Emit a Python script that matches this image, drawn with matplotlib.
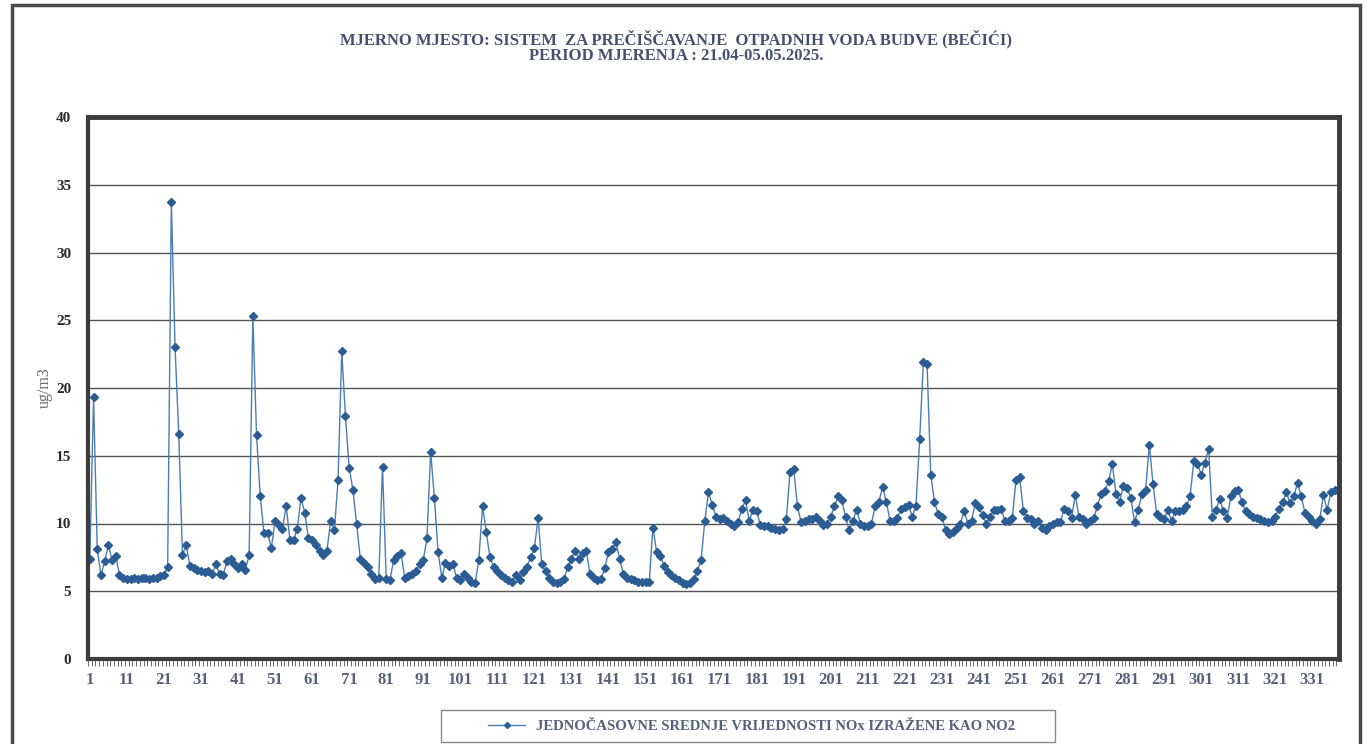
import numpy as np
import matplotlib.pyplot as plt
from matplotlib.patches import Rectangle

# chart texts
title = ('MJERNO MJESTO: SISTEM  ZA PREČIŠČAVANJE  OTPADNIH VODA BUDVE (BEČIĆI)\n'
         'PERIOD MJERENJA : 21.04-05.05.2025.')
series_label = 'JEDNOČASOVNE SREDNJE VRIJEDNOSTI NOx IZRAŽENE KAO NO2'
y_label = 'ug/m3'

# hourly NOx (as NO2) values, 10 per row
nox = [
    7.4, 19.3, 8.1, 6.2, 7.2, 8.4, 7.3, 7.6, 6.2, 6.0,
    5.9, 5.9, 6.0, 5.9, 6.0, 6.0, 5.9, 6.0, 6.0, 6.1,
    6.2, 6.8, 33.7, 23.0, 16.6, 7.7, 8.4, 6.9, 6.7, 6.6,
    6.5, 6.4, 6.5, 6.3, 7.0, 6.3, 6.2, 7.2, 7.4, 7.0,
    6.7, 7.0, 6.6, 7.7, 25.3, 16.5, 12.0, 9.3, 9.3, 8.2,
    10.2, 9.9, 9.6, 11.3, 8.8, 8.8, 9.6, 11.9, 10.8, 8.9,
    8.8, 8.4, 8.0, 7.7, 8.0, 10.2, 9.5, 13.2, 22.7, 17.9,
    14.1, 12.5, 10.0, 7.4, 7.1, 6.8, 6.3, 5.9, 6.0, 14.2,
    5.9, 5.8, 7.3, 7.6, 7.8, 6.0, 6.1, 6.3, 6.5, 7.0,
    7.3, 8.9, 15.3, 11.9, 7.9, 6.0, 7.1, 6.9, 7.0, 6.0,
    5.8, 6.3, 6.0, 5.7, 5.6, 7.3, 11.3, 9.4, 7.5, 6.8,
    6.5, 6.2, 6.0, 5.8, 5.7, 6.2, 5.8, 6.4, 6.8, 7.5,
    8.2, 10.4, 7.0, 6.5, 6.0, 5.7, 5.6, 5.7, 5.9, 6.8,
    7.4, 8.0, 7.4, 7.8, 8.0, 6.3, 6.0, 5.8, 5.9, 6.7,
    7.9, 8.1, 8.6, 7.4, 6.3, 6.0, 5.9, 5.8, 5.7, 5.7,
    5.7, 5.7, 9.7, 7.9, 7.6, 6.9, 6.4, 6.2, 6.0, 5.8,
    5.6, 5.5, 5.6, 5.9, 6.5, 7.3, 10.2, 12.3, 11.4, 10.5,
    10.3, 10.4, 10.2, 10.0, 9.8, 10.1, 11.1, 11.7, 10.2, 11.0,
    10.9, 9.9, 9.8, 9.8, 9.7, 9.6, 9.5, 9.6, 10.3, 13.8,
    14.0, 11.3, 10.1, 10.2, 10.3, 10.3, 10.5, 10.2, 9.9, 10.0,
    10.5, 11.3, 12.0, 11.7, 10.5, 9.5, 10.2, 11.0, 10.0, 9.8,
    9.8, 10.0, 11.3, 11.6, 12.7, 11.6, 10.2, 10.2, 10.4, 11.1,
    11.2, 11.4, 10.5, 11.3, 16.2, 21.9, 21.8, 13.6, 11.6, 10.7,
    10.5, 9.5, 9.2, 9.4, 9.7, 10.0, 10.9, 10.0, 10.2, 11.5,
    11.2, 10.6, 10.0, 10.5, 11.0, 11.0, 11.1, 10.2, 10.2, 10.4,
    13.2, 13.4, 10.9, 10.4, 10.3, 10.0, 10.2, 9.7, 9.5, 9.8,
    10.0, 10.1, 10.1, 11.1, 10.9, 10.4, 12.1, 10.5, 10.3, 10.0,
    10.2, 10.4, 11.3, 12.2, 12.4, 13.1, 14.4, 12.2, 11.6, 12.8,
    12.6, 11.9, 10.1, 11.0, 12.2, 12.5, 15.8, 12.9, 10.7, 10.5,
    10.3, 11.0, 10.2, 10.9, 10.9, 11.0, 11.3, 12.0, 14.6, 14.4,
    13.6, 14.5, 15.5, 10.5, 11.0, 11.8, 10.9, 10.4, 12.0, 12.4,
    12.5, 11.6, 10.9, 10.7, 10.5, 10.4, 10.3, 10.2, 10.1, 10.2,
    10.5, 11.1, 11.6, 12.3, 11.5, 12.0, 13.0, 12.0, 10.8, 10.5,
    10.2, 10.0, 10.3, 12.1, 11.0, 12.3, 12.5,
]
hours = np.arange(1, len(nox) + 1)

y_ticks = list(range(0, 45, 5))
x_tick_pos = list(range(1, 332, 10))

font = 'Liberation Serif'
line_color = '#4a7db5'
marker_color = '#2b5c94'
frame_color = '#3c3c3c'
label_color = '#56607a'

fig = plt.figure(figsize=(13.68, 7.44), dpi=100)

# outer chart border
fig.patches.append(Rectangle((12 / 1368, -0.01), (1360 - 12) / 1368, 1.01 - 5 / 744,
                             transform=fig.transFigure, fill=False,
                             edgecolor='#4a4a4a', linewidth=2.5))

ax = fig.add_axes([88 / 1368, 1 - 659 / 744, (1339 - 88) / 1368, (659 - 117) / 744])

ax.plot(hours, nox, color=line_color, linewidth=1.0,
        marker='D', markersize=3.8, markerfacecolor=marker_color,
        markeredgecolor=marker_color, label=series_label)

ax.set_xlim(0.5, 338.2)
ax.set_ylim(0, 40)

ax.set_yticks(y_ticks)
ax.set_yticklabels([str(v) for v in y_ticks], fontfamily=font,
                   fontweight='bold', fontsize=11, color='#2a2a2a')
ax.yaxis.grid(True, color='#555555', linewidth=1.0)
ax.set_axisbelow(True)

ax.set_xticks(x_tick_pos)
ax.set_xticklabels([str(v) for v in x_tick_pos], fontfamily=font,
                   fontweight='bold', fontsize=12, color=label_color)
ax.set_xticks(np.arange(0.5, len(nox) + 1.5, 1), minor=True)
ax.tick_params(axis='x', which='major', length=0, pad=9)
ax.tick_params(axis='x', which='minor', length=5, width=0.6, color='#555555',
               direction='out')
ax.tick_params(axis='y', length=0, pad=12)

for side in ['top', 'right', 'left', 'bottom']:
    ax.spines[side].set_color(frame_color)
    ax.spines[side].set_linewidth(3)
ax.spines['top'].set_linewidth(3.5)
ax.spines['right'].set_linewidth(3.5)

ax.set_ylabel(y_label, fontfamily=font, fontsize=11.5, color='#6a6a6a',
              labelpad=2)

fig.text(0.494, 1 - 47 / 744, title, ha='center', va='center',
         fontfamily=font, fontweight='bold', fontsize=12,
         color='#46506e', linespacing=1.0)

# legend box under the plot
fig.patches.append(Rectangle((441 / 1368, 1 - 742 / 744), (1055 - 441) / 1368,
                             (742 - 710) / 744, transform=fig.transFigure,
                             fill=False, edgecolor='#8a8a8a', linewidth=1))
leg = ax.legend(loc='center', bbox_to_anchor=(752 / 1368, 1 - 726 / 744),
                bbox_transform=fig.transFigure, frameon=False,
                handlelength=2.5, markerscale=0.8,
                prop={'family': font, 'weight': 'bold', 'size': 10.5})
for txt in leg.get_texts():
    txt.set_color('#55607a')

fig.savefig('out.png', dpi=100, facecolor='white')
